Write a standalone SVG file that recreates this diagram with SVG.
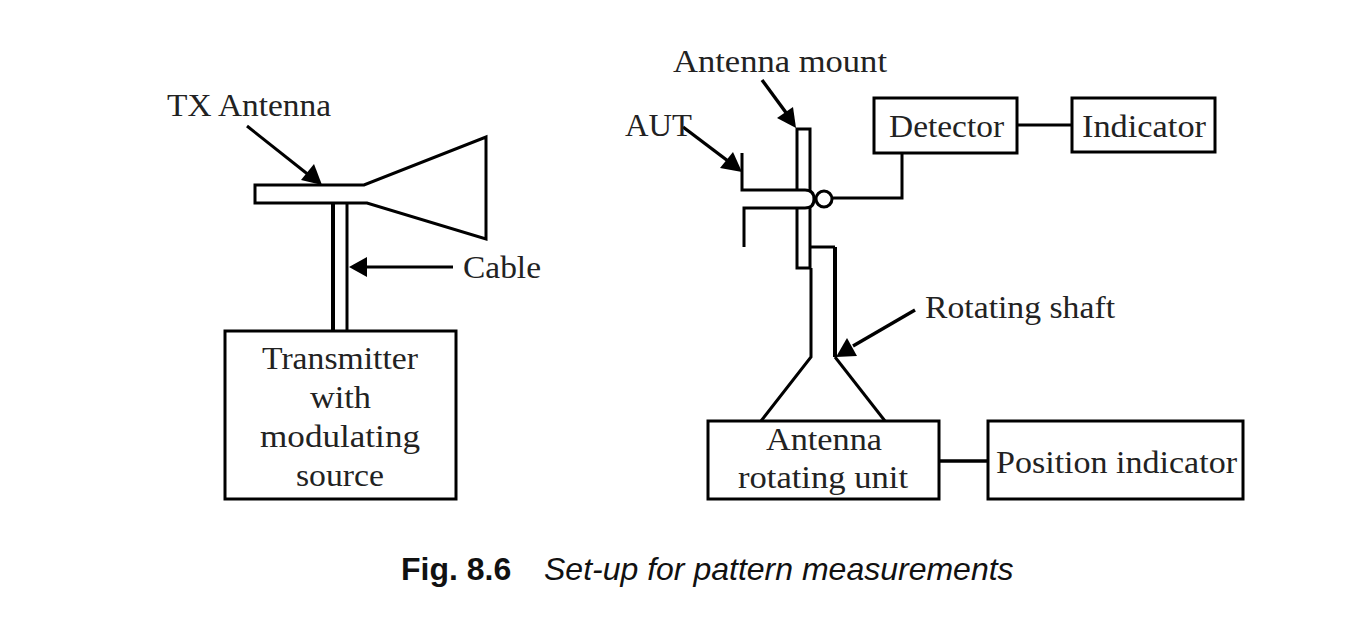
<svg xmlns="http://www.w3.org/2000/svg" width="1366" height="630" viewBox="0 0 1366 630">
<style>
.b{fill:#fff;stroke:#000;stroke-width:3}
.l{fill:none;stroke:#000;stroke-width:3}
.k{fill:none;stroke:#000;stroke-width:4}
.a{fill:none;stroke:#000;stroke-width:3.4}
.t{font-family:"Liberation Serif",serif;font-size:32px;fill:#222}
.c{font-family:"Liberation Sans",sans-serif;font-size:32px;fill:#111}
.h{fill:#000;stroke:none}
</style>
<rect width="1366" height="630" fill="#fff"/>
<g id="connectors">
<path class="k" d="M333 202V331"/>
<path class="l" d="M347 202V331"/>
<path class="l" d="M1017 125H1072"/>
<path class="l" d="M832 198H902V153"/>
<path class="a" d="M939 461H988"/>
<path class="l" d="M247 126L310 176"/>
<path class="h" d="M322 185L301 180L314 164Z"/>
<path class="l" d="M453 267H366"/>
<path class="h" d="M349 267L367 257V277Z"/>
<path class="a" d="M762 80L787 114"/>
<path class="h" d="M796 128L777 118L793 107Z"/>
<path class="a" d="M683 127L728 161"/>
<path class="h" d="M742 172L720 168L733 152Z"/>
<path class="a" d="M915 310L853 346"/>
<path class="h" d="M836 357L847 338L857 356Z"/>
</g>
<g id="tx-antenna"><path class="b" d="M255 185H364L486 137V239L367 203H255Z"/></g>
<g id="transmitter"><rect class="b" x="225" y="331" width="231" height="168"/>
<text class="t" x="262" y="369" textLength="156" lengthAdjust="spacingAndGlyphs">Transmitter</text><text class="t" x="310" y="408" textLength="61" lengthAdjust="spacingAndGlyphs">with</text><text class="t" x="260" y="447" textLength="160" lengthAdjust="spacingAndGlyphs">modulating</text><text class="t" x="296" y="486" textLength="88" lengthAdjust="spacingAndGlyphs">source</text></g>
<g id="label-tx"><text class="t" x="167" y="116" textLength="164" lengthAdjust="spacingAndGlyphs">TX Antenna</text></g>
<g id="label-cable"><text class="t" x="463" y="278" textLength="78" lengthAdjust="spacingAndGlyphs">Cable</text></g>
<g id="label-mount"><text class="t" x="673" y="72" textLength="214" lengthAdjust="spacingAndGlyphs">Antenna mount</text></g>
<g id="label-aut"><text class="t" x="625" y="136" textLength="67" lengthAdjust="spacingAndGlyphs">AUT</text></g>
<g id="label-shaft"><text class="t" x="925" y="318" textLength="190" lengthAdjust="spacingAndGlyphs">Rotating shaft</text></g>
<g id="mount"><rect class="b" x="797" y="129" width="13" height="139"/></g>
<g id="shaft"><path class="l" d="M810 247H835"/><path class="k" d="M835 247V357"/><path class="l" d="M835 357L885 421"/><path class="l" d="M811 268V357L761 421"/></g>
<g id="aut"><rect x="745" y="191" width="67" height="16" fill="#fff"/><path class="l" d="M742 153V190H805Q814 190 814 199Q814 208 805 208H744V247"/><circle class="b" cx="824" cy="199" r="8"/></g>
<g id="detector"><rect class="b" x="874" y="98" width="143" height="55"/><text class="t" x="889" y="137" textLength="115" lengthAdjust="spacingAndGlyphs">Detector</text></g>
<g id="indicator"><rect class="b" x="1072" y="98" width="143" height="54"/><text class="t" x="1082" y="137" textLength="124" lengthAdjust="spacingAndGlyphs">Indicator</text></g>
<g id="rotating-unit"><rect class="b" x="708" y="421" width="231" height="78"/><text class="t" x="766" y="450" textLength="116" lengthAdjust="spacingAndGlyphs">Antenna</text><text class="t" x="738" y="488" textLength="170" lengthAdjust="spacingAndGlyphs">rotating unit</text></g>
<g id="position"><rect class="b" x="988" y="421" width="255" height="78"/><text class="t" x="996" y="473" textLength="241" lengthAdjust="spacingAndGlyphs">Position indicator</text></g>
<g id="caption"><text class="c" x="401" y="580" font-weight="bold">Fig. 8.6</text><text class="c" x="544" y="580" font-style="italic">Set-up for pattern measurements</text></g>
</svg>
